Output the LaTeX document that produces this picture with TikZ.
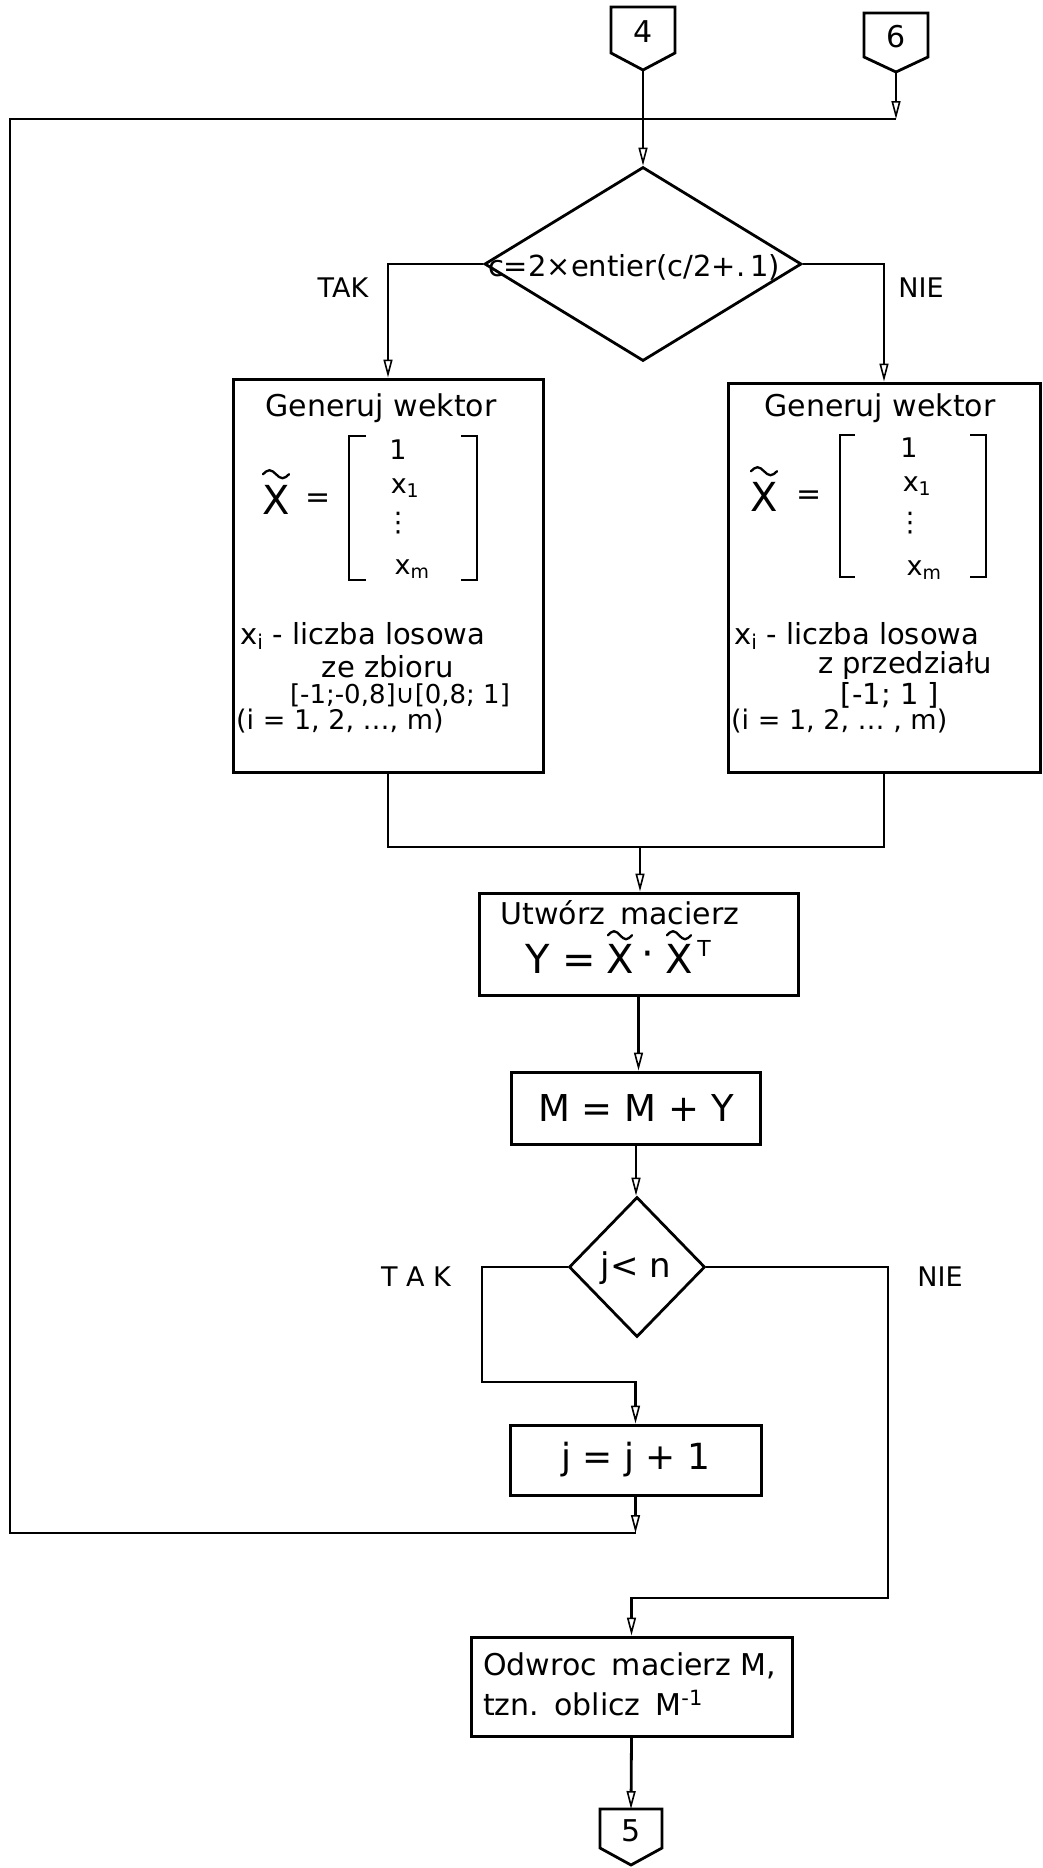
\RequirePackage{fix-cm}
\documentclass[tikz,border=0pt]{standalone}
\usepackage{fontspec}
\setmainfont{DejaVu Sans}
\usetikzlibrary{arrows.meta,shapes.geometric}
\begin{document}
\begin{tikzpicture}[x=1pt,y=-1pt,
  ln/.style={line width=2.8pt},
  arr/.style={ln,-{Triangle[open,length=18pt,width=9pt,line width=1.6pt]}},
  box/.style={draw,line width=3pt,rectangle,inner sep=0pt},
  dia/.style={draw,line width=2.8pt,diamond,inner sep=0pt},
  conn/.style={line width=2.8pt,line join=miter},
  tld/.style={line width=2.3pt,line cap=round},
  txt/.style={font=\fontsize{29}{32}\selectfont,inner sep=0pt},
  ent/.style={font=\fontsize{27}{30}\selectfont,inner sep=0pt},
  big/.style={font=\fontsize{30}{34}\selectfont,inner sep=0pt},
  huge/.style={font=\fontsize{40}{44}\selectfont,inner sep=0pt},
  lab/.style={font=\fontsize{27}{30}\selectfont,inner sep=0pt},
  brk/.style={line width=2.8pt}]
\useasboundingbox (0,0) rectangle (1043,1868);

% off-page connectors
\draw[conn] (611,7) -- (675,7) -- (675,53) -- (643,70) -- (611,53) -- cycle;
\node[big] (c4) at (643,32) {4};
\coordinate (c4t) at (643,70);
\draw[conn] (864,13) -- (928,13) -- (928,57) -- (896,72) -- (864,57) -- cycle;
\node[big] (c6) at (896,37) {6};
\coordinate (c6t) at (896,72);

% decision 1
\node[dia,minimum width=317,minimum height=194] (d1) at (643,264) {};
\node[font=\fontsize{29}{32}\selectfont,inner sep=0pt] (d1t) at (634,267) {c=2×entier(c/2+.\,1)};
\node[lab] (tak1) at (343,288) {TAK};
\node[lab] (nie1) at (921,288) {NIE};

% boxes
\node[box,minimum width=310,minimum height=393] (lbox) at (388,575.5) {};
\node[box,minimum width=312,minimum height=389] (rbox) at (884,577.5) {};

% left box content
\node[big] (lgen) at (381,408) {Generuj wektor};
\node[huge] (lX) at (276,500) {X};
\draw[tld] ([xshift=-13pt,yshift=11pt]lX.north) sin ++(6.5,-4) cos ++(6.5,4) sin ++(6.5,4) cos ++(6.5,-4);
\node[big] (leq) at (318,501) {=};
\draw[brk] (366,436) -- (349,436) -- (349,580) -- (366,580);
\draw[brk] (461,436) -- (477,436) -- (477,580) -- (461,580);
\node[ent] (l1) at (398,450) {1};
\node[ent] (lx1) at (405,488) {x\textsubscript{1}};
\node[ent] (ldots) at (398,523) {⋮};
\node[ent] (lxm) at (412,569) {x\textsubscript{m}};
\node[txt,anchor=west] (lxi) at (240,636) {x\textsubscript{i} - liczba losowa};
\node[txt] (lze) at (388,667) {ze zbioru};
\node[font=\fontsize{26}{28}\selectfont,inner sep=0pt] (lset) at (400,695) {[-1;-0,8]∪[0,8; 1]};
\node[font=\fontsize{27}{28}\selectfont,inner sep=0pt,anchor=west] (li) at (236,721) {(i = 1, 2, …, m)};

% right box content
\node[big] (rgen) at (880,408) {Generuj wektor};
\node[huge] (rX) at (764,497) {X};
\draw[tld] ([xshift=-13pt,yshift=11pt]rX.north) sin ++(6.5,-4) cos ++(6.5,4) sin ++(6.5,4) cos ++(6.5,-4);
\node[big] (req) at (809,498) {=};
\draw[brk] (855,435) -- (840,435) -- (840,577) -- (855,577);
\draw[brk] (970,435) -- (986,435) -- (986,577) -- (970,577);
\node[ent] (r1) at (909,448) {1};
\node[ent] (rx1) at (917,486) {x\textsubscript{1}};
\node[ent] (rdots) at (910,523) {⋮};
\node[ent] (rxm) at (924,570) {x\textsubscript{m}};
\node[txt,anchor=west] (rxi) at (734,636) {x\textsubscript{i} - liczba losowa};
\node[txt] (rz) at (905,665) {z przedziału};
\node[txt] (rset) at (890,695) {[-1; 1 ]};
\node[font=\fontsize{27}{28}\selectfont,inner sep=0pt,anchor=west] (ri) at (731,721) {(i = 1, 2, … , m)};

% Utworz
\node[box,minimum width=319,minimum height=102] (ubox) at (638.5,944) {};
\node[big] (ut1) at (620,913) {Utwórz\enspace macierz};
\node[huge] (uY) at (561,959) {Y =};
\node[huge] (uX1) at (620,959) {X};
\draw[tld] ([xshift=-12pt,yshift=9pt]uX1.north) sin ++(6,-4) cos ++(6,4) sin ++(6,4) cos ++(6,-4);
\node[huge] (udot) at (648,959) {·};
\node[huge] (uX2) at (679,959) {X};
\draw[tld] ([xshift=-12pt,yshift=9pt]uX2.north) sin ++(6,-4) cos ++(6,4) sin ++(6,4) cos ++(6,-4);
\node[font=\fontsize{22}{24}\selectfont,inner sep=0pt] (uT) at (704,948) {T};

% M = M + Y
\node[box,minimum width=249,minimum height=72,font=\fontsize{37}{40}\selectfont] (mbox) at (636,1108) {M = M + Y};

% decision 2
\node[dia,minimum width=136,minimum height=140] (d2) at (637,1267) {};
\node[font=\fontsize{34}{38}\selectfont,inner sep=0pt] (d2t) at (636,1268) {j< n};
\node[lab] (tak2) at (416,1277) {T A K};
\node[lab] (nie2) at (940,1277) {NIE};

% j = j + 1
\node[box,minimum width=251,minimum height=70,font=\fontsize{36}{40}\selectfont] (jbox) at (635.5,1460) {j = j + 1};

% Odwroc
\node[box,minimum width=321,minimum height=99] (obox) at (631.5,1686.5) {};
\node[big,anchor=west] (o1) at (483,1666) {Odwroc\enspace macierz M,};
\node[big,anchor=west] (o2) at (483,1703) {tzn.\enspace oblicz\enspace M\textsuperscript{-1}};

% connector 5
\draw[conn] (600,1809) -- (662,1809) -- (662,1848) -- (631,1865) -- (600,1848) -- cycle;
\node[big] (c5) at (631,1831) {5};
\coordinate (c5top) at (631,1809);

% coordinates for routing
\coordinate (top6) at (896,119);
\coordinate (tl) at (10,119);
\coordinate (bl) at (10,1533);
\coordinate (mg) at (640,847);
\coordinate (t2) at (482,1382);
\coordinate (n2) at (888,1598);

% connectors
\draw[arr] (c6t) -- (top6);
\draw[ln] (top6) -- (tl) -- (bl) -- (jbox.south |- bl);
\draw[arr] (c4t) -- (d1.north);
\draw[arr] (d1.west) -| (lbox.north);
\draw[arr] (d1.east) -| (rbox.north);
\draw[ln] (lbox.south) |- (mg) -| (rbox.south);
\draw[arr] (mg) -- (mg |- ubox.north);
\draw[arr] (ubox.south) -- (ubox.south |- mbox.north);
\draw[arr] (mbox.south) -- (mbox.south |- d2.north);
\draw[arr] (d2.west) -| (t2) -| (jbox.north);
\draw[arr] (jbox.south) -- (jbox.south |- bl);
\draw[arr] (d2.east) -| (n2) -| (obox.north);
\draw[arr] (obox.south) -- (c5top);
\end{tikzpicture}
\end{document}
